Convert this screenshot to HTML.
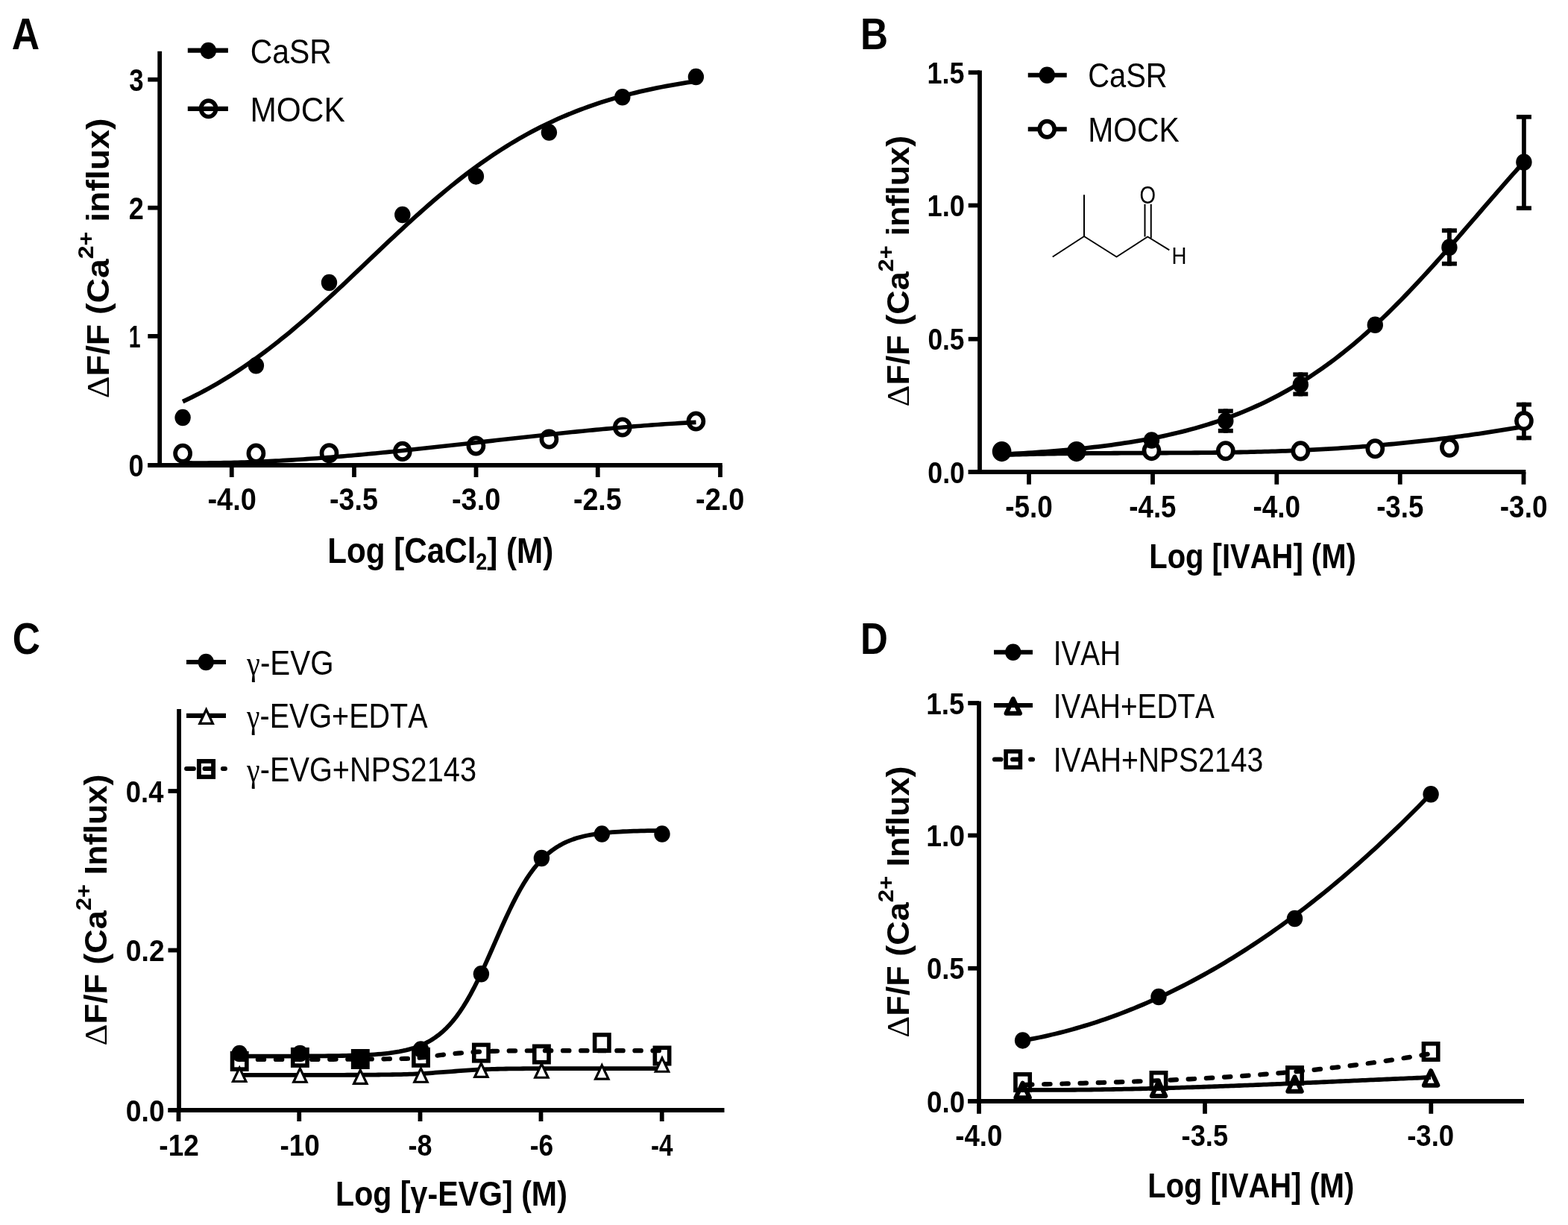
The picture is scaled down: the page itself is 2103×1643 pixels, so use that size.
<!DOCTYPE html>
<html><head><meta charset="utf-8"><title>Figure</title>
<style>
html,body{margin:0;padding:0;background:#fff;}
svg{display:block;}
text{font-kerning:none;fill:#000;white-space:pre;}
</style></head>
<body>
<svg width="2103" height="1643" viewBox="0 0 2103 1643">
<rect width="2103" height="1643" fill="#fff"/>
<g id="panelA">
<line x1="214.20" y1="68.80" x2="214.20" y2="626.90" stroke="#000" stroke-width="5.8" stroke-linecap="butt" />
<line x1="198.30" y1="624.00" x2="968.80" y2="624.00" stroke="#000" stroke-width="5.8" stroke-linecap="butt" />
<line x1="198.30" y1="106.70" x2="214.20" y2="106.70" stroke="#000" stroke-width="5.8" stroke-linecap="butt" />
<line x1="198.30" y1="278.70" x2="214.20" y2="278.70" stroke="#000" stroke-width="5.8" stroke-linecap="butt" />
<line x1="198.30" y1="450.90" x2="214.20" y2="450.90" stroke="#000" stroke-width="5.8" stroke-linecap="butt" />
<line x1="198.30" y1="624.00" x2="214.20" y2="624.00" stroke="#000" stroke-width="5.8" stroke-linecap="butt" />
<line x1="310.75" y1="624.00" x2="310.75" y2="640.00" stroke="#000" stroke-width="5.8" stroke-linecap="butt" />
<line x1="475.00" y1="624.00" x2="475.00" y2="640.00" stroke="#000" stroke-width="5.8" stroke-linecap="butt" />
<line x1="638.50" y1="624.00" x2="638.50" y2="640.00" stroke="#000" stroke-width="5.8" stroke-linecap="butt" />
<line x1="801.75" y1="624.00" x2="801.75" y2="640.00" stroke="#000" stroke-width="5.8" stroke-linecap="butt" />
<line x1="966.00" y1="624.00" x2="966.00" y2="640.00" stroke="#000" stroke-width="5.8" stroke-linecap="butt" />
<g transform="translate(15.81,65.90) scale(0.8823,1.0000)">
<text x="0.00" y="0.00" font-family='"Liberation Sans", sans-serif' font-weight="bold" font-size="58.70">A</text>
</g>
<g transform="translate(173.22,121.90) scale(0.8106,1.0000)">
<text x="0.00" y="0.00" font-family='"Liberation Sans", sans-serif' font-weight="bold" font-size="42.90">3</text>
</g>
<g transform="translate(172.74,293.90) scale(0.8401,1.0000)">
<text x="0.00" y="0.00" font-family='"Liberation Sans", sans-serif' font-weight="bold" font-size="42.90">2</text>
</g>
<g transform="translate(172.73,466.10) scale(0.6617,1.0000)">
<text x="0.00" y="0.00" font-family='"Liberation Sans", sans-serif' font-weight="bold" font-size="42.90">1</text>
</g>
<g transform="translate(172.54,639.20) scale(0.8490,1.0000)">
<text x="0.00" y="0.00" font-family='"Liberation Sans", sans-serif' font-weight="bold" font-size="42.90">0</text>
</g>
<g transform="translate(278.48,684.10) scale(0.8841,1.0000)">
<text x="0.00" y="0.00" font-family='"Liberation Sans", sans-serif' font-weight="bold" font-size="42.90">-4.0</text>
</g>
<g transform="translate(441.99,684.10) scale(0.8774,1.0000)">
<text x="0.00" y="0.00" font-family='"Liberation Sans", sans-serif' font-weight="bold" font-size="42.90">-3.5</text>
</g>
<g transform="translate(605.98,684.10) scale(0.8841,1.0000)">
<text x="0.00" y="0.00" font-family='"Liberation Sans", sans-serif' font-weight="bold" font-size="42.90">-3.0</text>
</g>
<g transform="translate(768.89,684.10) scale(0.8774,1.0000)">
<text x="0.00" y="0.00" font-family='"Liberation Sans", sans-serif' font-weight="bold" font-size="42.90">-2.5</text>
</g>
<g transform="translate(933.08,684.10) scale(0.8841,1.0000)">
<text x="0.00" y="0.00" font-family='"Liberation Sans", sans-serif' font-weight="bold" font-size="42.90">-2.0</text>
</g>
<g transform="translate(439.30,755.30) scale(0.8771,1.0000)">
<text x="0.00" y="0.00" font-family='"Liberation Sans", sans-serif' font-weight="bold" font-size="48.10">Log [CaCl</text>
<text x="226.91" y="8.66" font-family='"Liberation Sans", sans-serif' font-weight="bold" font-size="30.78">2</text>
<text x="244.00" y="0.00" font-family='"Liberation Sans", sans-serif' font-weight="bold" font-size="48.10">] (M)</text>
</g>
<g transform="translate(145.70,534.24) rotate(-90) scale(1.0953,1.0000)">
<text x="0.00" y="0.00" font-family='"Liberation Serif", serif' font-weight="normal" font-size="42.40">Δ</text>
<text x="27.24" y="0.00" font-family='"Liberation Sans", sans-serif' font-weight="bold" font-size="42.40">F/F (Ca</text>
<text x="170.77" y="-21.20" font-family='"Liberation Sans", sans-serif' font-weight="bold" font-size="29.26">2+</text>
<text x="215.88" y="0.00" font-family='"Liberation Sans", sans-serif' font-weight="bold" font-size="42.40">influx)</text>
</g>
<line x1="251.80" y1="67.70" x2="305.90" y2="67.70" stroke="#000" stroke-width="6.2" stroke-linecap="butt" />
<ellipse cx="279.40" cy="67.90" rx="10.7" ry="11.25" fill="#000"/>
<g transform="translate(335.76,84.80) scale(0.8882,1.0000)">
<text x="0.00" y="0.00" font-family='"Liberation Sans", sans-serif' font-weight="normal" font-size="46.00">CaSR</text>
</g>
<line x1="251.80" y1="145.80" x2="305.90" y2="145.80" stroke="#000" stroke-width="6.2" stroke-linecap="butt" />
<ellipse cx="279.60" cy="145.80" rx="10.0" ry="10.7" fill="none" stroke="#000" stroke-width="5.7"/>
<g transform="translate(335.50,163.00) scale(0.9219,1.0000)">
<text x="0.00" y="0.00" font-family='"Liberation Sans", sans-serif' font-weight="normal" font-size="46.00">MOCK</text>
</g>
<path d="M245.10,538.62 L250.88,535.89 L256.67,533.08 L262.45,530.19 L268.24,527.21 L274.02,524.15 L279.80,521.00 L285.59,517.77 L291.37,514.45 L297.16,511.04 L302.94,507.54 L308.72,503.95 L314.51,500.28 L320.29,496.51 L326.08,492.66 L331.86,488.72 L337.64,484.69 L343.43,480.57 L349.21,476.37 L355.00,472.08 L360.78,467.71 L366.56,463.25 L372.35,458.72 L378.13,454.10 L383.92,449.41 L389.70,444.65 L395.48,439.81 L401.27,434.90 L407.05,429.93 L412.84,424.90 L418.62,419.80 L424.41,414.65 L430.19,409.44 L435.97,404.19 L441.76,398.89 L447.54,393.55 L453.33,388.17 L459.11,382.76 L464.89,377.32 L470.68,371.86 L476.46,366.39 L482.25,360.89 L488.03,355.39 L493.81,349.89 L499.60,344.38 L505.38,338.88 L511.17,333.40 L516.95,327.92 L522.73,322.47 L528.52,317.04 L534.30,311.64 L540.09,306.28 L545.87,300.95 L551.65,295.66 L557.44,290.42 L563.22,285.24 L569.01,280.10 L574.79,275.02 L580.57,270.01 L586.36,265.06 L592.14,260.17 L597.93,255.36 L603.71,250.62 L609.49,245.95 L615.28,241.36 L621.06,236.85 L626.85,232.43 L632.63,228.08 L638.41,223.82 L644.20,219.65 L649.98,215.56 L655.77,211.56 L661.55,207.65 L667.33,203.82 L673.12,200.09 L678.90,196.44 L684.69,192.88 L690.47,189.41 L696.25,186.03 L702.04,182.74 L707.82,179.53 L713.61,176.41 L719.39,173.38 L725.17,170.43 L730.96,167.57 L736.74,164.78 L742.53,162.08 L748.31,159.46 L754.09,156.92 L759.88,154.46 L765.66,152.07 L771.45,149.76 L777.23,147.51 L783.02,145.35 L788.80,143.25 L794.58,141.22 L800.37,139.25 L806.15,137.36 L811.94,135.52 L817.72,133.75 L823.50,132.04 L829.29,130.38 L835.07,128.79 L840.86,127.25 L846.64,125.76 L852.42,124.33 L858.21,122.94 L863.99,121.61 L869.78,120.32 L875.56,119.09 L881.34,117.89 L887.13,116.74 L892.91,115.63 L898.70,114.57 L904.48,113.54 L910.26,112.55 L916.05,111.60 L921.83,110.68 L927.62,109.80 L933.40,108.95" fill="none" stroke="#000" stroke-width="5.8" stroke-linejoin="round" stroke-linecap="butt"/>
<path d="M245.00,620.80 L249.62,620.85 L254.24,620.90 L258.86,620.93 L263.48,620.95 L268.10,620.95 L272.72,620.95 L277.35,620.93 L281.97,620.90 L286.59,620.85 L291.21,620.80 L295.83,620.73 L300.45,620.65 L305.07,620.56 L309.69,620.46 L314.31,620.35 L318.93,620.22 L323.55,620.09 L328.17,619.94 L332.80,619.78 L337.42,619.62 L342.04,619.44 L346.66,619.25 L351.28,619.06 L355.90,618.85 L360.52,618.63 L365.14,618.41 L369.76,618.17 L374.38,617.93 L379.00,617.67 L383.62,617.41 L388.24,617.14 L392.87,616.86 L397.49,616.57 L402.11,616.27 L406.73,615.97 L411.35,615.65 L415.97,615.33 L420.59,615.00 L425.21,614.67 L429.83,614.32 L434.45,613.97 L439.07,613.62 L443.69,613.25 L448.32,612.88 L452.94,612.50 L457.56,612.12 L462.18,611.73 L466.80,611.33 L471.42,610.93 L476.04,610.52 L480.66,610.10 L485.28,609.68 L489.90,609.26 L494.52,608.83 L499.14,608.39 L503.77,607.95 L508.39,607.50 L513.01,607.05 L517.63,606.60 L522.25,606.14 L526.87,605.67 L531.49,605.21 L536.11,604.74 L540.73,604.26 L545.35,603.78 L549.97,603.30 L554.59,602.81 L559.21,602.33 L563.84,601.83 L568.46,601.34 L573.08,600.84 L577.70,600.34 L582.32,599.84 L586.94,599.34 L591.56,598.83 L596.18,598.32 L600.80,597.81 L605.42,597.30 L610.04,596.79 L614.66,596.27 L619.29,595.76 L623.91,595.24 L628.53,594.73 L633.15,594.21 L637.77,593.69 L642.39,593.17 L647.01,592.65 L651.63,592.13 L656.25,591.61 L660.87,591.10 L665.49,590.58 L670.11,590.06 L674.73,589.54 L679.36,589.03 L683.98,588.51 L688.60,588.00 L693.22,587.48 L697.84,586.97 L702.46,586.46 L707.08,585.95 L711.70,585.45 L716.32,584.94 L720.94,584.44 L725.56,583.94 L730.18,583.45 L734.81,582.95 L739.43,582.46 L744.05,581.97 L748.67,581.49 L753.29,581.00 L757.91,580.53 L762.53,580.05 L767.15,579.58 L771.77,579.11 L776.39,578.65 L781.01,578.19 L785.63,577.73 L790.26,577.28 L794.88,576.84 L799.50,576.40 L804.12,575.96 L808.74,575.53 L813.36,575.10 L817.98,574.68 L822.60,574.27 L827.22,573.86 L831.84,573.46 L836.46,573.06 L841.08,572.67 L845.70,572.28 L850.33,571.91 L854.95,571.53 L859.57,571.17 L864.19,570.81 L868.81,570.46 L873.43,570.12 L878.05,569.78 L882.67,569.45 L887.29,569.13 L891.91,568.82 L896.53,568.51 L901.15,568.22 L905.78,567.93 L910.40,567.65 L915.02,567.38 L919.64,567.11 L924.26,566.86 L928.88,566.61 L933.50,566.38" fill="none" stroke="#000" stroke-width="5.6" stroke-linejoin="round" stroke-linecap="butt"/>
<ellipse cx="245.10" cy="608.20" rx="10.0" ry="10.7" fill="none" stroke="#000" stroke-width="5.7"/>
<ellipse cx="343.40" cy="608.10" rx="10.0" ry="10.7" fill="none" stroke="#000" stroke-width="5.7"/>
<ellipse cx="441.50" cy="607.80" rx="10.0" ry="10.7" fill="none" stroke="#000" stroke-width="5.7"/>
<ellipse cx="539.80" cy="605.40" rx="10.0" ry="10.7" fill="none" stroke="#000" stroke-width="5.7"/>
<ellipse cx="638.40" cy="598.00" rx="10.0" ry="10.7" fill="none" stroke="#000" stroke-width="5.7"/>
<ellipse cx="736.40" cy="589.00" rx="10.0" ry="10.7" fill="none" stroke="#000" stroke-width="5.7"/>
<ellipse cx="834.80" cy="573.00" rx="10.0" ry="10.7" fill="none" stroke="#000" stroke-width="5.7"/>
<ellipse cx="933.40" cy="565.00" rx="10.0" ry="10.7" fill="none" stroke="#000" stroke-width="5.7"/>
<ellipse cx="245.10" cy="560.10" rx="10.7" ry="11.25" fill="#000"/>
<ellipse cx="343.40" cy="490.20" rx="10.7" ry="11.25" fill="#000"/>
<ellipse cx="441.50" cy="379.00" rx="10.7" ry="11.25" fill="#000"/>
<ellipse cx="539.80" cy="288.00" rx="10.7" ry="11.25" fill="#000"/>
<ellipse cx="638.40" cy="236.40" rx="10.7" ry="11.25" fill="#000"/>
<ellipse cx="736.40" cy="177.60" rx="10.7" ry="11.25" fill="#000"/>
<ellipse cx="834.80" cy="130.20" rx="10.7" ry="11.25" fill="#000"/>
<ellipse cx="933.40" cy="103.10" rx="10.7" ry="11.25" fill="#000"/>
</g>
<g id="panelB">
<line x1="1314.00" y1="94.50" x2="1314.00" y2="635.90" stroke="#000" stroke-width="5.8" stroke-linecap="butt" />
<line x1="1298.75" y1="633.00" x2="2046.30" y2="633.00" stroke="#000" stroke-width="5.8" stroke-linecap="butt" />
<line x1="1298.75" y1="97.25" x2="1314.00" y2="97.25" stroke="#000" stroke-width="5.8" stroke-linecap="butt" />
<line x1="1298.75" y1="275.50" x2="1314.00" y2="275.50" stroke="#000" stroke-width="5.8" stroke-linecap="butt" />
<line x1="1298.75" y1="454.75" x2="1314.00" y2="454.75" stroke="#000" stroke-width="5.8" stroke-linecap="butt" />
<line x1="1298.75" y1="633.00" x2="1314.00" y2="633.00" stroke="#000" stroke-width="5.8" stroke-linecap="butt" />
<line x1="1380.00" y1="633.00" x2="1380.00" y2="649.75" stroke="#000" stroke-width="5.8" stroke-linecap="butt" />
<line x1="1546.00" y1="633.00" x2="1546.00" y2="649.75" stroke="#000" stroke-width="5.8" stroke-linecap="butt" />
<line x1="1712.30" y1="633.00" x2="1712.30" y2="649.75" stroke="#000" stroke-width="5.8" stroke-linecap="butt" />
<line x1="1877.75" y1="633.00" x2="1877.75" y2="649.75" stroke="#000" stroke-width="5.8" stroke-linecap="butt" />
<line x1="2043.50" y1="633.00" x2="2043.50" y2="649.75" stroke="#000" stroke-width="5.8" stroke-linecap="butt" />
<g transform="translate(1154.04,65.50) scale(0.8727,1.0000)">
<text x="0.00" y="0.00" font-family='"Liberation Sans", sans-serif' font-weight="bold" font-size="58.70">B</text>
</g>
<g transform="translate(1243.56,111.85) scale(0.8717,1.0000)">
<text x="0.00" y="0.00" font-family='"Liberation Sans", sans-serif' font-weight="bold" font-size="41.20">1.5</text>
</g>
<g transform="translate(1243.53,290.10) scale(0.8802,1.0000)">
<text x="0.00" y="0.00" font-family='"Liberation Sans", sans-serif' font-weight="bold" font-size="41.20">1.0</text>
</g>
<g transform="translate(1244.39,469.35) scale(0.8569,1.0000)">
<text x="0.00" y="0.00" font-family='"Liberation Sans", sans-serif' font-weight="bold" font-size="41.20">0.5</text>
</g>
<g transform="translate(1244.37,647.60) scale(0.8651,1.0000)">
<text x="0.00" y="0.00" font-family='"Liberation Sans", sans-serif' font-weight="bold" font-size="41.20">0.0</text>
</g>
<g transform="translate(1348.22,694.30) scale(0.8861,1.0000)">
<text x="0.00" y="0.00" font-family='"Liberation Sans", sans-serif' font-weight="bold" font-size="41.70">-5.0</text>
</g>
<g transform="translate(1514.33,694.30) scale(0.8794,1.0000)">
<text x="0.00" y="0.00" font-family='"Liberation Sans", sans-serif' font-weight="bold" font-size="41.70">-4.5</text>
</g>
<g transform="translate(1680.42,694.30) scale(0.8861,1.0000)">
<text x="0.00" y="0.00" font-family='"Liberation Sans", sans-serif' font-weight="bold" font-size="41.70">-4.0</text>
</g>
<g transform="translate(1846.13,694.30) scale(0.8794,1.0000)">
<text x="0.00" y="0.00" font-family='"Liberation Sans", sans-serif' font-weight="bold" font-size="41.70">-3.5</text>
</g>
<g transform="translate(2011.82,694.30) scale(0.8861,1.0000)">
<text x="0.00" y="0.00" font-family='"Liberation Sans", sans-serif' font-weight="bold" font-size="41.70">-3.0</text>
</g>
<g transform="translate(1541.20,761.70) scale(0.8734,1.0000)">
<text x="0.00" y="0.00" font-family='"Liberation Sans", sans-serif' font-weight="bold" font-size="45.80">Log [IVAH] (M)</text>
</g>
<g transform="translate(1219.10,545.49) rotate(-90) scale(1.0653,1.0000)">
<text x="0.00" y="0.00" font-family='"Liberation Serif", serif' font-weight="normal" font-size="42.20">Δ</text>
<text x="27.11" y="0.00" font-family='"Liberation Sans", sans-serif' font-weight="bold" font-size="42.20">F/F (Ca</text>
<text x="169.96" y="-21.10" font-family='"Liberation Sans", sans-serif' font-weight="bold" font-size="29.12">2+</text>
<text x="214.87" y="0.00" font-family='"Liberation Sans", sans-serif' font-weight="bold" font-size="42.20">influx)</text>
</g>
<line x1="1378.75" y1="100.75" x2="1430.75" y2="100.75" stroke="#000" stroke-width="6.2" stroke-linecap="butt" />
<ellipse cx="1404.25" cy="100.75" rx="10.7" ry="11.25" fill="#000"/>
<g transform="translate(1459.26,117.00) scale(0.8670,1.0000)">
<text x="0.00" y="0.00" font-family='"Liberation Sans", sans-serif' font-weight="normal" font-size="46.00">CaSR</text>
</g>
<line x1="1378.75" y1="173.25" x2="1430.75" y2="173.25" stroke="#000" stroke-width="6.2" stroke-linecap="butt" />
<ellipse cx="1404.25" cy="173.25" rx="10.0" ry="10.7" fill="#fff" stroke="#000" stroke-width="5.7"/>
<g transform="translate(1459.13,190.00) scale(0.8886,1.0000)">
<text x="0.00" y="0.00" font-family='"Liberation Sans", sans-serif' font-weight="normal" font-size="46.00">MOCK</text>
</g>
<path d="M1411.75,344.50 L1454.00,317.00 L1497.50,344.50 L1539.25,317.50 L1568.30,335.30" fill="none" stroke="#000" stroke-width="2.0" stroke-linejoin="round" stroke-linecap="butt"/>
<line x1="1454.00" y1="317.00" x2="1454.00" y2="261.25" stroke="#000" stroke-width="2.0" stroke-linecap="butt" />
<line x1="1535.50" y1="317.50" x2="1535.50" y2="273.75" stroke="#000" stroke-width="2.0" stroke-linecap="butt" />
<line x1="1543.75" y1="319.50" x2="1543.75" y2="273.75" stroke="#000" stroke-width="2.0" stroke-linecap="butt" />
<g transform="translate(1528.48,272.50) scale(0.8495,1.0000)">
<text x="0.00" y="0.00" font-family='"Liberation Sans", sans-serif' font-weight="normal" font-size="32.60">O</text>
</g>
<g transform="translate(1571.52,354.30) scale(0.8769,1.0000)">
<text x="0.00" y="0.00" font-family='"Liberation Sans", sans-serif' font-weight="normal" font-size="31.50">H</text>
</g>
<path d="M1343.60,610.24 L1348.30,610.08 L1353.00,609.92 L1357.70,609.78 L1362.40,609.64 L1367.10,609.51 L1371.80,609.38 L1376.50,609.26 L1381.21,609.15 L1385.91,609.04 L1390.61,608.94 L1395.31,608.84 L1400.01,608.75 L1404.71,608.66 L1409.41,608.58 L1414.11,608.50 L1418.81,608.43 L1423.51,608.37 L1428.21,608.30 L1432.91,608.24 L1437.61,608.19 L1442.31,608.14 L1447.01,608.09 L1451.72,608.05 L1456.42,608.00 L1461.12,607.97 L1465.82,607.93 L1470.52,607.90 L1475.22,607.87 L1479.92,607.84 L1484.62,607.81 L1489.32,607.79 L1494.02,607.76 L1498.72,607.74 L1503.42,607.72 L1508.12,607.70 L1512.82,607.69 L1517.52,607.67 L1522.23,607.65 L1526.93,607.64 L1531.63,607.62 L1536.33,607.60 L1541.03,607.59 L1545.73,607.57 L1550.43,607.55 L1555.13,607.53 L1559.83,607.52 L1564.53,607.49 L1569.23,607.47 L1573.93,607.45 L1578.63,607.43 L1583.33,607.40 L1588.03,607.37 L1592.74,607.34 L1597.44,607.31 L1602.14,607.27 L1606.84,607.23 L1611.54,607.19 L1616.24,607.14 L1620.94,607.10 L1625.64,607.04 L1630.34,606.99 L1635.04,606.93 L1639.74,606.86 L1644.44,606.80 L1649.14,606.72 L1653.84,606.65 L1658.54,606.56 L1663.25,606.48 L1667.95,606.39 L1672.65,606.29 L1677.35,606.18 L1682.05,606.08 L1686.75,605.96 L1691.45,605.84 L1696.15,605.71 L1700.85,605.58 L1705.55,605.44 L1710.25,605.29 L1714.95,605.13 L1719.65,604.97 L1724.35,604.80 L1729.06,604.63 L1733.76,604.44 L1738.46,604.25 L1743.16,604.05 L1747.86,603.84 L1752.56,603.62 L1757.26,603.39 L1761.96,603.16 L1766.66,602.91 L1771.36,602.66 L1776.06,602.40 L1780.76,602.13 L1785.46,601.85 L1790.16,601.57 L1794.86,601.27 L1799.57,600.97 L1804.27,600.65 L1808.97,600.33 L1813.67,600.00 L1818.37,599.66 L1823.07,599.31 L1827.77,598.95 L1832.47,598.58 L1837.17,598.21 L1841.87,597.82 L1846.57,597.42 L1851.27,597.02 L1855.97,596.61 L1860.67,596.18 L1865.37,595.75 L1870.08,595.31 L1874.78,594.86 L1879.48,594.40 L1884.18,593.93 L1888.88,593.45 L1893.58,592.96 L1898.28,592.46 L1902.98,591.95 L1907.68,591.43 L1912.38,590.90 L1917.08,590.36 L1921.78,589.81 L1926.48,589.26 L1931.18,588.69 L1935.88,588.11 L1940.59,587.52 L1945.29,586.92 L1949.99,586.32 L1954.69,585.70 L1959.39,585.07 L1964.09,584.43 L1968.79,583.78 L1973.49,583.12 L1978.19,582.45 L1982.89,581.77 L1987.59,581.08 L1992.29,580.38 L1996.99,579.67 L2001.69,578.95 L2006.39,578.22 L2011.10,577.48 L2015.80,576.72 L2020.50,575.96 L2025.20,575.18 L2029.90,574.40 L2034.60,573.60 L2039.30,572.79 L2044.00,571.98" fill="none" stroke="#000" stroke-width="5.8" stroke-linejoin="round" stroke-linecap="butt"/>
<line x1="2043.90" y1="539.70" x2="2043.90" y2="590.30" stroke="#000" stroke-width="5.8" stroke-linecap="butt" />
<line x1="2033.90" y1="542.60" x2="2053.90" y2="542.60" stroke="#000" stroke-width="5.8" stroke-linecap="butt" />
<line x1="2033.90" y1="587.40" x2="2053.90" y2="587.40" stroke="#000" stroke-width="5.8" stroke-linecap="butt" />
<ellipse cx="1343.60" cy="605.60" rx="10.0" ry="10.7" fill="#fff" stroke="#000" stroke-width="5.7"/>
<ellipse cx="1443.80" cy="605.60" rx="10.0" ry="10.7" fill="#fff" stroke="#000" stroke-width="5.7"/>
<ellipse cx="1544.50" cy="604.60" rx="10.0" ry="10.7" fill="#fff" stroke="#000" stroke-width="5.7"/>
<ellipse cx="1643.80" cy="604.70" rx="10.0" ry="10.7" fill="#fff" stroke="#000" stroke-width="5.7"/>
<ellipse cx="1744.30" cy="604.90" rx="10.0" ry="10.7" fill="#fff" stroke="#000" stroke-width="5.7"/>
<ellipse cx="1844.30" cy="601.80" rx="10.0" ry="10.7" fill="#fff" stroke="#000" stroke-width="5.7"/>
<ellipse cx="1943.90" cy="600.30" rx="10.0" ry="10.7" fill="#fff" stroke="#000" stroke-width="5.7"/>
<ellipse cx="2043.90" cy="564.60" rx="10.0" ry="10.7" fill="#fff" stroke="#000" stroke-width="5.7"/>
<path d="M1343.60,609.43 L1349.48,609.13 L1355.37,608.82 L1361.25,608.49 L1367.14,608.16 L1373.02,607.80 L1378.91,607.44 L1384.79,607.05 L1390.68,606.66 L1396.56,606.24 L1402.45,605.81 L1408.33,605.36 L1414.22,604.89 L1420.10,604.41 L1425.99,603.90 L1431.87,603.37 L1437.76,602.82 L1443.64,602.25 L1449.53,601.66 L1455.41,601.04 L1461.30,600.40 L1467.18,599.73 L1473.07,599.03 L1478.95,598.31 L1484.84,597.55 L1490.72,596.77 L1496.61,595.95 L1502.49,595.11 L1508.38,594.23 L1514.26,593.31 L1520.15,592.36 L1526.03,591.37 L1531.92,590.34 L1537.80,589.27 L1543.69,588.16 L1549.57,587.01 L1555.46,585.81 L1561.34,584.57 L1567.23,583.28 L1573.11,581.94 L1578.99,580.55 L1584.88,579.10 L1590.76,577.61 L1596.65,576.05 L1602.53,574.44 L1608.42,572.77 L1614.30,571.04 L1620.19,569.24 L1626.07,567.38 L1631.96,565.45 L1637.84,563.46 L1643.73,561.39 L1649.61,559.25 L1655.50,557.03 L1661.38,554.74 L1667.27,552.37 L1673.15,549.92 L1679.04,547.38 L1684.92,544.76 L1690.81,542.06 L1696.69,539.27 L1702.58,536.38 L1708.46,533.41 L1714.35,530.33 L1720.23,527.17 L1726.12,523.91 L1732.00,520.54 L1737.89,517.08 L1743.77,513.52 L1749.66,509.85 L1755.54,506.08 L1761.43,502.20 L1767.31,498.22 L1773.20,494.12 L1779.08,489.92 L1784.97,485.62 L1790.85,481.20 L1796.74,476.67 L1802.62,472.04 L1808.51,467.29 L1814.39,462.44 L1820.27,457.48 L1826.16,452.41 L1832.04,447.23 L1837.93,441.95 L1843.81,436.56 L1849.70,431.08 L1855.58,425.49 L1861.47,419.81 L1867.35,414.03 L1873.24,408.15 L1879.12,402.19 L1885.01,396.14 L1890.89,390.01 L1896.78,383.80 L1902.66,377.51 L1908.55,371.15 L1914.43,364.73 L1920.32,358.24 L1926.20,351.70 L1932.09,345.10 L1937.97,338.46 L1943.86,331.77 L1949.74,325.05 L1955.63,318.29 L1961.51,311.51 L1967.40,304.71 L1973.28,297.90 L1979.17,291.08 L1985.05,284.26 L1990.94,277.44 L1996.82,270.63 L2002.71,263.84 L2008.59,257.07 L2014.48,250.32 L2020.36,243.61 L2026.25,236.94 L2032.13,230.31 L2038.02,223.73 L2043.90,217.20" fill="none" stroke="#000" stroke-width="5.8" stroke-linejoin="round" stroke-linecap="butt"/>
<line x1="1643.80" y1="548.40" x2="1643.80" y2="580.70" stroke="#000" stroke-width="5.8" stroke-linecap="butt" />
<line x1="1633.80" y1="551.30" x2="1653.80" y2="551.30" stroke="#000" stroke-width="5.8" stroke-linecap="butt" />
<line x1="1633.80" y1="577.80" x2="1653.80" y2="577.80" stroke="#000" stroke-width="5.8" stroke-linecap="butt" />
<line x1="1744.30" y1="499.40" x2="1744.30" y2="531.40" stroke="#000" stroke-width="5.8" stroke-linecap="butt" />
<line x1="1734.30" y1="502.30" x2="1754.30" y2="502.30" stroke="#000" stroke-width="5.8" stroke-linecap="butt" />
<line x1="1734.30" y1="528.50" x2="1754.30" y2="528.50" stroke="#000" stroke-width="5.8" stroke-linecap="butt" />
<line x1="1943.90" y1="306.30" x2="1943.90" y2="356.60" stroke="#000" stroke-width="5.8" stroke-linecap="butt" />
<line x1="1933.90" y1="309.20" x2="1953.90" y2="309.20" stroke="#000" stroke-width="5.8" stroke-linecap="butt" />
<line x1="1933.90" y1="353.70" x2="1953.90" y2="353.70" stroke="#000" stroke-width="5.8" stroke-linecap="butt" />
<line x1="2043.90" y1="153.90" x2="2043.90" y2="282.10" stroke="#000" stroke-width="5.8" stroke-linecap="butt" />
<line x1="2033.90" y1="156.80" x2="2053.90" y2="156.80" stroke="#000" stroke-width="5.8" stroke-linecap="butt" />
<line x1="2033.90" y1="279.20" x2="2053.90" y2="279.20" stroke="#000" stroke-width="5.8" stroke-linecap="butt" />
<ellipse cx="1343.60" cy="605.60" rx="10.7" ry="11.25" fill="#000"/>
<ellipse cx="1443.80" cy="605.60" rx="10.7" ry="11.25" fill="#000"/>
<ellipse cx="1544.50" cy="590.50" rx="10.7" ry="11.25" fill="#000"/>
<ellipse cx="1643.80" cy="564.50" rx="10.7" ry="11.25" fill="#000"/>
<ellipse cx="1744.30" cy="515.80" rx="10.7" ry="11.25" fill="#000"/>
<ellipse cx="1844.30" cy="435.70" rx="10.7" ry="11.25" fill="#000"/>
<ellipse cx="1943.90" cy="331.80" rx="10.7" ry="11.25" fill="#000"/>
<ellipse cx="2043.90" cy="217.50" rx="10.7" ry="11.25" fill="#000"/>
</g>
<g id="panelC">
<line x1="240.10" y1="951.00" x2="240.10" y2="1491.90" stroke="#000" stroke-width="5.8" stroke-linecap="butt" />
<line x1="225.50" y1="1489.00" x2="971.50" y2="1489.00" stroke="#000" stroke-width="5.8" stroke-linecap="butt" />
<line x1="225.50" y1="1061.00" x2="240.10" y2="1061.00" stroke="#000" stroke-width="5.8" stroke-linecap="butt" />
<line x1="225.50" y1="1274.50" x2="240.10" y2="1274.50" stroke="#000" stroke-width="5.8" stroke-linecap="butt" />
<line x1="225.50" y1="1489.00" x2="240.10" y2="1489.00" stroke="#000" stroke-width="5.8" stroke-linecap="butt" />
<line x1="239.50" y1="1489.00" x2="239.50" y2="1504.00" stroke="#000" stroke-width="5.8" stroke-linecap="butt" />
<line x1="401.25" y1="1489.00" x2="401.25" y2="1504.00" stroke="#000" stroke-width="5.8" stroke-linecap="butt" />
<line x1="563.50" y1="1489.00" x2="563.50" y2="1504.00" stroke="#000" stroke-width="5.8" stroke-linecap="butt" />
<line x1="725.50" y1="1489.00" x2="725.50" y2="1504.00" stroke="#000" stroke-width="5.8" stroke-linecap="butt" />
<line x1="887.75" y1="1489.00" x2="887.75" y2="1504.00" stroke="#000" stroke-width="5.8" stroke-linecap="butt" />
<g transform="translate(16.69,876.50) scale(0.8778,1.0000)">
<text x="0.00" y="0.00" font-family='"Liberation Sans", sans-serif' font-weight="bold" font-size="58.70">C</text>
</g>
<g transform="translate(168.85,1075.70) scale(0.8759,1.0000)">
<text x="0.00" y="0.00" font-family='"Liberation Sans", sans-serif' font-weight="bold" font-size="41.50">0.4</text>
</g>
<g transform="translate(168.81,1289.20) scale(0.8994,1.0000)">
<text x="0.00" y="0.00" font-family='"Liberation Sans", sans-serif' font-weight="bold" font-size="41.50">0.2</text>
</g>
<g transform="translate(168.81,1503.70) scale(0.8994,1.0000)">
<text x="0.00" y="0.00" font-family='"Liberation Sans", sans-serif' font-weight="bold" font-size="41.50">0.0</text>
</g>
<g transform="translate(213.32,1549.90) scale(0.9000,1.0000)">
<text x="0.00" y="0.00" font-family='"Liberation Sans", sans-serif' font-weight="bold" font-size="41.10">-12</text>
</g>
<g transform="translate(375.42,1549.90) scale(0.9000,1.0000)">
<text x="0.00" y="0.00" font-family='"Liberation Sans", sans-serif' font-weight="bold" font-size="41.10">-10</text>
</g>
<g transform="translate(547.56,1549.90) scale(0.8780,1.0000)">
<text x="0.00" y="0.00" font-family='"Liberation Sans", sans-serif' font-weight="bold" font-size="41.10">-8</text>
</g>
<g transform="translate(710.81,1549.90) scale(0.8609,1.0000)">
<text x="0.00" y="0.00" font-family='"Liberation Sans", sans-serif' font-weight="bold" font-size="41.10">-6</text>
</g>
<g transform="translate(872.92,1549.90) scale(0.8086,1.0000)">
<text x="0.00" y="0.00" font-family='"Liberation Sans", sans-serif' font-weight="bold" font-size="41.10">-4</text>
</g>
<g transform="translate(450.02,1616.80) scale(0.9026,1.0000)">
<text x="0.00" y="0.00" font-family='"Liberation Sans", sans-serif' font-weight="bold" font-size="45.60">Log [γ-EVG] (M)</text>
</g>
<g transform="translate(143.20,1402.44) rotate(-90) scale(1.0607,1.0000)">
<text x="0.00" y="0.00" font-family='"Liberation Serif", serif' font-weight="normal" font-size="42.40">Δ</text>
<text x="27.24" y="0.00" font-family='"Liberation Sans", sans-serif' font-weight="bold" font-size="42.40">F/F (Ca</text>
<text x="170.77" y="-21.20" font-family='"Liberation Sans", sans-serif' font-weight="bold" font-size="29.26">2+</text>
<text x="215.88" y="0.00" font-family='"Liberation Sans", sans-serif' font-weight="bold" font-size="42.40">Influx)</text>
</g>
<line x1="250.00" y1="888.00" x2="303.00" y2="888.00" stroke="#000" stroke-width="6.2" stroke-linecap="butt" />
<ellipse cx="276.25" cy="888.00" rx="10.7" ry="11.25" fill="#000"/>
<g transform="translate(331.10,904.75) scale(0.8765,1.0000)">
<text x="0.00" y="0.00" font-family='"Liberation Serif", serif' font-weight="normal" font-size="46.00">γ</text>
<text x="20.36" y="0.00" font-family='"Liberation Sans", sans-serif' font-weight="normal" font-size="46.00">-EVG</text>
</g>
<line x1="250.00" y1="959.90" x2="303.00" y2="959.90" stroke="#000" stroke-width="6.2" stroke-linecap="butt" />
<path d="M276.60,951.74 L285.37,970.30 L267.83,970.30 Z" fill="#fff" stroke="#000" stroke-width="3.2" stroke-linejoin="miter" stroke-miterlimit="10"/>
<g transform="translate(331.10,976.00) scale(0.8586,1.0000)">
<text x="0.00" y="0.00" font-family='"Liberation Serif", serif' font-weight="normal" font-size="46.00">γ</text>
<text x="20.36" y="0.00" font-family='"Liberation Sans", sans-serif' font-weight="normal" font-size="46.00">-EVG+EDTA</text>
</g>
<path d="M250.10,1031.10 L301.90,1031.10" fill="none" stroke="#000" stroke-width="6.0" stroke-linejoin="round" stroke-linecap="round" stroke-dasharray="9.8 14.6" stroke-dashoffset="0"/>
<rect x="266.90" y="1020.95" width="19.20" height="21.00" fill="none" stroke="#000" stroke-width="5.9"/>
<g transform="translate(331.10,1048.00) scale(0.8635,1.0000)">
<text x="0.00" y="0.00" font-family='"Liberation Serif", serif' font-weight="normal" font-size="46.00">γ</text>
<text x="20.36" y="0.00" font-family='"Liberation Sans", sans-serif' font-weight="normal" font-size="46.00">-EVG+NPS2143</text>
</g>
<rect x="311.55" y="1412.70" width="19.30" height="21.40" fill="none" stroke="#000" stroke-width="5.6"/>
<rect x="392.75" y="1407.70" width="19.30" height="21.40" fill="none" stroke="#000" stroke-width="5.6"/>
<rect x="473.65" y="1409.80" width="19.30" height="21.40" fill="none" stroke="#000" stroke-width="5.6"/>
<rect x="554.85" y="1407.60" width="19.30" height="21.40" fill="none" stroke="#000" stroke-width="5.6"/>
<rect x="635.75" y="1401.40" width="19.30" height="21.40" fill="none" stroke="#000" stroke-width="5.6"/>
<rect x="716.75" y="1403.30" width="19.30" height="21.40" fill="none" stroke="#000" stroke-width="5.6"/>
<rect x="797.65" y="1387.90" width="19.30" height="21.40" fill="none" stroke="#000" stroke-width="5.6"/>
<rect x="878.35" y="1405.30" width="19.30" height="21.40" fill="none" stroke="#000" stroke-width="5.6"/>
<path d="M321.70,1421.00 L325.50,1421.00 L329.30,1421.00 L333.10,1421.00 L336.90,1421.00 L340.70,1421.00 L344.50,1421.00 L348.30,1421.00 L352.11,1421.00 L355.91,1421.00 L359.71,1421.00 L363.51,1421.00 L367.31,1421.00 L371.11,1421.00 L374.91,1421.00 L378.71,1421.00 L382.51,1421.00 L386.31,1421.00 L390.11,1421.00 L393.91,1421.00 L397.71,1421.00 L401.51,1421.00 L405.31,1421.00 L409.12,1420.99 L412.92,1420.98 L416.72,1420.97 L420.52,1420.96 L424.32,1420.94 L428.12,1420.92 L431.92,1420.90 L435.72,1420.87 L439.52,1420.85 L443.32,1420.82 L447.12,1420.79 L450.92,1420.76 L454.72,1420.73 L458.52,1420.70 L462.32,1420.67 L466.13,1420.63 L469.93,1420.60 L473.73,1420.57 L477.53,1420.54 L481.33,1420.51 L485.13,1420.48 L488.93,1420.46 L492.73,1420.44 L496.53,1420.41 L500.33,1420.39 L504.13,1420.37 L507.93,1420.34 L511.73,1420.32 L515.53,1420.29 L519.33,1420.26 L523.14,1420.22 L526.94,1420.18 L530.74,1420.14 L534.54,1420.09 L538.34,1420.03 L542.14,1419.95 L545.94,1419.81 L549.74,1419.61 L553.54,1419.36 L557.34,1419.07 L561.14,1418.77 L564.94,1418.46 L568.74,1418.10 L572.54,1417.66 L576.34,1417.16 L580.15,1416.63 L583.95,1416.08 L587.75,1415.53 L591.55,1415.00 L595.35,1414.51 L599.15,1414.08 L602.95,1413.71 L606.75,1413.35 L610.55,1412.99 L614.35,1412.64 L618.15,1412.30 L621.95,1411.98 L625.75,1411.67 L629.55,1411.39 L633.36,1411.13 L637.16,1410.89 L640.96,1410.68 L644.76,1410.51 L648.56,1410.36 L652.36,1410.21 L656.16,1410.07 L659.96,1409.95 L663.76,1409.83 L667.56,1409.73 L671.36,1409.64 L675.16,1409.57 L678.96,1409.51 L682.76,1409.47 L686.56,1409.43 L690.37,1409.39 L694.17,1409.36 L697.97,1409.33 L701.77,1409.30 L705.57,1409.27 L709.37,1409.25 L713.17,1409.23 L716.97,1409.21 L720.77,1409.20 L724.57,1409.20 L728.37,1409.20 L732.17,1409.20 L735.97,1409.20 L739.77,1409.20 L743.57,1409.20 L747.38,1409.20 L751.18,1409.20 L754.98,1409.20 L758.78,1409.20 L762.58,1409.20 L766.38,1409.20 L770.18,1409.20 L773.98,1409.20 L777.78,1409.20 L781.58,1409.20 L785.38,1409.20 L789.18,1409.20 L792.98,1409.20 L796.78,1409.20 L800.58,1409.20 L804.39,1409.20 L808.19,1409.20 L811.99,1409.20 L815.79,1409.20 L819.59,1409.20 L823.39,1409.20 L827.19,1409.20 L830.99,1409.20 L834.79,1409.20 L838.59,1409.20 L842.39,1409.20 L846.19,1409.20 L849.99,1409.20 L853.79,1409.20 L857.59,1409.20 L861.40,1409.20 L865.20,1409.20 L869.00,1409.20 L872.80,1409.20 L876.60,1409.20 L880.40,1409.20 L884.20,1409.20 L888.00,1409.20" fill="none" stroke="#000" stroke-width="6.2" stroke-linejoin="round" stroke-linecap="round" stroke-dasharray="8.4 15.7" stroke-dashoffset="0"/>
<path d="M321.20,1416.61 L325.96,1416.60 L330.73,1416.60 L335.49,1416.60 L340.25,1416.60 L345.02,1416.60 L349.78,1416.59 L354.54,1416.59 L359.30,1416.58 L364.07,1416.58 L368.83,1416.57 L373.59,1416.57 L378.36,1416.56 L383.12,1416.55 L387.88,1416.54 L392.65,1416.53 L397.41,1416.52 L402.17,1416.50 L406.93,1416.48 L411.70,1416.46 L416.46,1416.44 L421.22,1416.41 L425.99,1416.38 L430.75,1416.35 L435.51,1416.30 L440.28,1416.26 L445.04,1416.20 L449.80,1416.14 L454.56,1416.06 L459.33,1415.98 L464.09,1415.88 L468.85,1415.76 L473.62,1415.63 L478.38,1415.48 L483.14,1415.31 L487.91,1415.11 L492.67,1414.87 L497.43,1414.61 L502.19,1414.30 L506.96,1413.94 L511.72,1413.53 L516.48,1413.06 L521.25,1412.52 L526.01,1411.90 L530.77,1411.18 L535.54,1410.36 L540.30,1409.41 L545.06,1408.33 L549.83,1407.09 L554.59,1405.67 L559.35,1404.05 L564.11,1402.20 L568.88,1400.09 L573.64,1397.69 L578.40,1394.98 L583.17,1391.90 L587.93,1388.44 L592.69,1384.54 L597.46,1380.18 L602.22,1375.31 L606.98,1369.91 L611.74,1363.94 L616.51,1357.39 L621.27,1350.24 L626.03,1342.48 L630.80,1334.14 L635.56,1325.23 L640.32,1315.81 L645.09,1305.91 L649.85,1295.63 L654.61,1285.04 L659.37,1274.26 L664.14,1263.38 L668.90,1252.51 L673.66,1241.78 L678.43,1231.28 L683.19,1221.11 L687.95,1211.36 L692.72,1202.09 L697.48,1193.36 L702.24,1185.20 L707.01,1177.64 L711.77,1170.68 L716.53,1164.31 L721.29,1158.53 L726.06,1153.30 L730.82,1148.60 L735.58,1144.39 L740.35,1140.63 L745.11,1137.29 L749.87,1134.34 L754.64,1131.73 L759.40,1129.43 L764.16,1127.40 L768.92,1125.63 L773.69,1124.07 L778.45,1122.71 L783.21,1121.52 L787.98,1120.49 L792.74,1119.58 L797.50,1118.80 L802.27,1118.11 L807.03,1117.51 L811.79,1117.00 L816.55,1116.54 L821.32,1116.15 L826.08,1115.81 L830.84,1115.52 L835.61,1115.26 L840.37,1115.04 L845.13,1114.85 L849.90,1114.68 L854.66,1114.54 L859.42,1114.41 L864.18,1114.30 L868.95,1114.21 L873.71,1114.13 L878.47,1114.06 L883.24,1114.00 L888.00,1113.94" fill="none" stroke="#000" stroke-width="5.8" stroke-linejoin="round" stroke-linecap="butt"/>
<ellipse cx="321.20" cy="1413.00" rx="10.7" ry="11.25" fill="#000"/>
<ellipse cx="402.40" cy="1413.00" rx="10.7" ry="11.25" fill="#000"/>
<ellipse cx="483.30" cy="1420.50" rx="10.7" ry="11.25" fill="#000"/>
<ellipse cx="564.50" cy="1407.40" rx="10.7" ry="11.25" fill="#000"/>
<ellipse cx="645.40" cy="1306.30" rx="10.7" ry="11.25" fill="#000"/>
<ellipse cx="726.40" cy="1151.00" rx="10.7" ry="11.25" fill="#000"/>
<ellipse cx="807.30" cy="1118.60" rx="10.7" ry="11.25" fill="#000"/>
<ellipse cx="888.00" cy="1118.60" rx="10.7" ry="11.25" fill="#000"/>
<path d="M321.00,1441.90 L324.81,1441.90 L328.61,1441.90 L332.42,1441.90 L336.22,1441.90 L340.03,1441.90 L343.83,1441.90 L347.64,1441.90 L351.44,1441.90 L355.25,1441.90 L359.05,1441.90 L362.86,1441.90 L366.66,1441.90 L370.47,1441.90 L374.28,1441.90 L378.08,1441.90 L381.89,1441.90 L385.69,1441.90 L389.50,1441.90 L393.30,1441.90 L397.11,1441.90 L400.91,1441.90 L404.72,1441.90 L408.52,1441.90 L412.33,1441.90 L416.13,1441.89 L419.94,1441.89 L423.74,1441.88 L427.55,1441.88 L431.36,1441.87 L435.16,1441.86 L438.97,1441.85 L442.77,1441.84 L446.58,1441.83 L450.38,1441.82 L454.19,1441.81 L457.99,1441.80 L461.80,1441.78 L465.60,1441.77 L469.41,1441.76 L473.21,1441.74 L477.02,1441.73 L480.83,1441.71 L484.63,1441.69 L488.44,1441.67 L492.24,1441.65 L496.05,1441.62 L499.85,1441.59 L503.66,1441.55 L507.46,1441.51 L511.27,1441.47 L515.07,1441.42 L518.88,1441.37 L522.68,1441.31 L526.49,1441.25 L530.30,1441.18 L534.10,1441.12 L537.91,1441.04 L541.71,1440.96 L545.52,1440.85 L549.32,1440.71 L553.13,1440.55 L556.93,1440.38 L560.74,1440.19 L564.54,1440.00 L568.35,1439.79 L572.15,1439.55 L575.96,1439.29 L579.77,1439.02 L583.57,1438.73 L587.38,1438.44 L591.18,1438.14 L594.99,1437.86 L598.79,1437.58 L602.60,1437.32 L606.40,1437.04 L610.21,1436.76 L614.01,1436.47 L617.82,1436.18 L621.62,1435.90 L625.43,1435.62 L629.23,1435.36 L633.04,1435.12 L636.85,1434.89 L640.65,1434.69 L644.46,1434.52 L648.26,1434.37 L652.07,1434.23 L655.87,1434.10 L659.68,1433.97 L663.48,1433.86 L667.29,1433.75 L671.09,1433.66 L674.90,1433.58 L678.70,1433.52 L682.51,1433.47 L686.32,1433.42 L690.12,1433.37 L693.93,1433.32 L697.73,1433.28 L701.54,1433.24 L705.34,1433.20 L709.15,1433.17 L712.95,1433.14 L716.76,1433.12 L720.56,1433.11 L724.37,1433.10 L728.17,1433.10 L731.98,1433.10 L735.79,1433.10 L739.59,1433.10 L743.40,1433.10 L747.20,1433.10 L751.01,1433.10 L754.81,1433.10 L758.62,1433.10 L762.42,1433.10 L766.23,1433.10 L770.03,1433.10 L773.84,1433.10 L777.64,1433.10 L781.45,1433.10 L785.26,1433.10 L789.06,1433.10 L792.87,1433.10 L796.67,1433.10 L800.48,1433.10 L804.28,1433.10 L808.09,1433.10 L811.89,1433.10 L815.70,1433.10 L819.50,1433.10 L823.31,1433.10 L827.11,1433.10 L830.92,1433.10 L834.72,1433.10 L838.53,1433.10 L842.34,1433.10 L846.14,1433.10 L849.95,1433.10 L853.75,1433.10 L857.56,1433.10 L861.36,1433.10 L865.17,1433.10 L868.97,1433.10 L872.78,1433.10 L876.58,1433.10 L880.39,1433.10 L884.19,1433.10 L888.00,1433.10" fill="none" stroke="#000" stroke-width="5.8" stroke-linejoin="round" stroke-linecap="butt"/>
<path d="M321.20,1432.13 L329.92,1450.50 L312.48,1450.50 Z" fill="#fff" stroke="#000" stroke-width="3.2" stroke-linejoin="miter" stroke-miterlimit="10"/>
<path d="M402.40,1432.88 L411.12,1451.25 L393.68,1451.25 Z" fill="#fff" stroke="#000" stroke-width="3.2" stroke-linejoin="miter" stroke-miterlimit="10"/>
<path d="M483.30,1435.08 L492.02,1453.45 L474.58,1453.45 Z" fill="#fff" stroke="#000" stroke-width="3.2" stroke-linejoin="miter" stroke-miterlimit="10"/>
<path d="M564.50,1432.88 L573.22,1451.25 L555.78,1451.25 Z" fill="#fff" stroke="#000" stroke-width="3.2" stroke-linejoin="miter" stroke-miterlimit="10"/>
<path d="M645.40,1426.08 L654.12,1444.45 L636.68,1444.45 Z" fill="#fff" stroke="#000" stroke-width="3.2" stroke-linejoin="miter" stroke-miterlimit="10"/>
<path d="M726.40,1426.88 L735.12,1445.25 L717.68,1445.25 Z" fill="#fff" stroke="#000" stroke-width="3.2" stroke-linejoin="miter" stroke-miterlimit="10"/>
<path d="M807.30,1428.78 L816.02,1447.15 L798.58,1447.15 Z" fill="#fff" stroke="#000" stroke-width="3.2" stroke-linejoin="miter" stroke-miterlimit="10"/>
<path d="M888.00,1418.88 L896.72,1437.25 L879.28,1437.25 Z" fill="#fff" stroke="#000" stroke-width="3.2" stroke-linejoin="miter" stroke-miterlimit="10"/>
</g>
<g id="panelD">
<line x1="1313.00" y1="940.50" x2="1313.00" y2="1479.90" stroke="#000" stroke-width="5.8" stroke-linecap="butt" />
<line x1="1298.25" y1="1477.00" x2="2044.00" y2="1477.00" stroke="#000" stroke-width="5.8" stroke-linecap="butt" />
<line x1="1298.25" y1="943.00" x2="1313.00" y2="943.00" stroke="#000" stroke-width="5.8" stroke-linecap="butt" />
<line x1="1298.25" y1="1120.50" x2="1313.00" y2="1120.50" stroke="#000" stroke-width="5.8" stroke-linecap="butt" />
<line x1="1298.25" y1="1298.75" x2="1313.00" y2="1298.75" stroke="#000" stroke-width="5.8" stroke-linecap="butt" />
<line x1="1298.25" y1="1477.00" x2="1313.00" y2="1477.00" stroke="#000" stroke-width="5.8" stroke-linecap="butt" />
<line x1="1313.00" y1="1477.00" x2="1313.00" y2="1493.80" stroke="#000" stroke-width="5.8" stroke-linecap="butt" />
<line x1="1616.00" y1="1477.00" x2="1616.00" y2="1493.80" stroke="#000" stroke-width="5.8" stroke-linecap="butt" />
<line x1="1919.30" y1="1477.00" x2="1919.30" y2="1493.80" stroke="#000" stroke-width="5.8" stroke-linecap="butt" />
<g transform="translate(1154.06,876.50) scale(0.8692,1.0000)">
<text x="0.00" y="0.00" font-family='"Liberation Sans", sans-serif' font-weight="bold" font-size="58.70">D</text>
</g>
<g transform="translate(1242.19,957.60) scale(0.8979,1.0000)">
<text x="0.00" y="0.00" font-family='"Liberation Sans", sans-serif' font-weight="bold" font-size="41.20">1.5</text>
</g>
<g transform="translate(1242.17,1135.10) scale(0.9067,1.0000)">
<text x="0.00" y="0.00" font-family='"Liberation Sans", sans-serif' font-weight="bold" font-size="41.20">1.0</text>
</g>
<g transform="translate(1243.05,1313.35) scale(0.8826,1.0000)">
<text x="0.00" y="0.00" font-family='"Liberation Sans", sans-serif' font-weight="bold" font-size="41.20">0.5</text>
</g>
<g transform="translate(1243.03,1491.60) scale(0.8911,1.0000)">
<text x="0.00" y="0.00" font-family='"Liberation Sans", sans-serif' font-weight="bold" font-size="41.20">0.0</text>
</g>
<g transform="translate(1281.34,1537.20) scale(0.8967,1.0000)">
<text x="0.00" y="0.00" font-family='"Liberation Sans", sans-serif' font-weight="bold" font-size="40.80">-4.0</text>
</g>
<g transform="translate(1584.55,1537.20) scale(0.8899,1.0000)">
<text x="0.00" y="0.00" font-family='"Liberation Sans", sans-serif' font-weight="bold" font-size="40.80">-3.5</text>
</g>
<g transform="translate(1887.14,1537.20) scale(0.8967,1.0000)">
<text x="0.00" y="0.00" font-family='"Liberation Sans", sans-serif' font-weight="bold" font-size="40.80">-3.0</text>
</g>
<g transform="translate(1539.31,1605.50) scale(0.8772,1.0000)">
<text x="0.00" y="0.00" font-family='"Liberation Sans", sans-serif' font-weight="bold" font-size="45.50">Log [IVAH] (M)</text>
</g>
<g transform="translate(1219.20,1391.69) rotate(-90) scale(1.0620,1.0000)">
<text x="0.00" y="0.00" font-family='"Liberation Serif", serif' font-weight="normal" font-size="42.40">Δ</text>
<text x="27.24" y="0.00" font-family='"Liberation Sans", sans-serif' font-weight="bold" font-size="42.40">F/F (Ca</text>
<text x="170.77" y="-21.20" font-family='"Liberation Sans", sans-serif' font-weight="bold" font-size="29.26">2+</text>
<text x="215.88" y="0.00" font-family='"Liberation Sans", sans-serif' font-weight="bold" font-size="42.40">Influx)</text>
</g>
<line x1="1333.00" y1="874.75" x2="1385.00" y2="874.75" stroke="#000" stroke-width="6.2" stroke-linecap="butt" />
<ellipse cx="1358.75" cy="874.75" rx="10.7" ry="11.25" fill="#000"/>
<g transform="translate(1412.66,891.75) scale(0.8429,1.0000)">
<text x="0.00" y="0.00" font-family='"Liberation Sans", sans-serif' font-weight="normal" font-size="46.00">IVAH</text>
</g>
<line x1="1333.00" y1="946.00" x2="1385.00" y2="946.00" stroke="#000" stroke-width="6.2" stroke-linecap="butt" />
<path d="M1358.75,937.25 L1368.00,956.75 L1349.50,956.75 Z" fill="none" stroke="#000" stroke-width="6.0" stroke-linejoin="round" stroke-miterlimit="10"/>
<g transform="translate(1412.67,963.00) scale(0.8415,1.0000)">
<text x="0.00" y="0.00" font-family='"Liberation Sans", sans-serif' font-weight="normal" font-size="46.00">IVAH+EDTA</text>
</g>
<path d="M1334.00,1018.50 L1385.00,1018.50" fill="none" stroke="#000" stroke-width="6.2" stroke-linejoin="round" stroke-linecap="round" stroke-dasharray="8.4 15.7" stroke-dashoffset="0"/>
<rect x="1349.10" y="1007.80" width="19.30" height="21.40" fill="none" stroke="#000" stroke-width="5.6"/>
<g transform="translate(1412.63,1034.75) scale(0.8503,1.0000)">
<text x="0.00" y="0.00" font-family='"Liberation Sans", sans-serif' font-weight="normal" font-size="46.00">IVAH+NPS2143</text>
</g>
<rect x="1361.95" y="1440.90" width="19.30" height="21.40" fill="none" stroke="#000" stroke-width="5.6"/>
<rect x="1544.35" y="1438.80" width="19.30" height="21.40" fill="none" stroke="#000" stroke-width="5.6"/>
<rect x="1726.85" y="1431.90" width="19.30" height="21.40" fill="none" stroke="#000" stroke-width="5.6"/>
<rect x="1909.45" y="1399.80" width="19.30" height="21.40" fill="none" stroke="#000" stroke-width="5.6"/>
<path d="M1371.60,1454.98 L1375.27,1454.89 L1378.95,1454.79 L1382.62,1454.69 L1386.30,1454.60 L1389.97,1454.50 L1393.65,1454.40 L1397.32,1454.31 L1401.00,1454.21 L1404.67,1454.11 L1408.34,1454.02 L1412.02,1453.92 L1415.69,1453.82 L1419.37,1453.72 L1423.04,1453.62 L1426.72,1453.52 L1430.39,1453.42 L1434.07,1453.31 L1437.74,1453.21 L1441.42,1453.11 L1445.09,1453.00 L1448.76,1452.90 L1452.44,1452.79 L1456.11,1452.68 L1459.79,1452.57 L1463.46,1452.46 L1467.14,1452.35 L1470.81,1452.24 L1474.49,1452.13 L1478.16,1452.01 L1481.83,1451.90 L1485.51,1451.78 L1489.18,1451.66 L1492.86,1451.54 L1496.53,1451.41 L1500.21,1451.29 L1503.88,1451.16 L1507.56,1451.04 L1511.23,1450.91 L1514.91,1450.77 L1518.58,1450.64 L1522.25,1450.51 L1525.93,1450.37 L1529.60,1450.23 L1533.28,1450.09 L1536.95,1449.94 L1540.63,1449.80 L1544.30,1449.65 L1547.98,1449.50 L1551.65,1449.34 L1555.32,1449.19 L1559.00,1449.03 L1562.67,1448.87 L1566.35,1448.70 L1570.02,1448.54 L1573.70,1448.37 L1577.37,1448.20 L1581.05,1448.02 L1584.72,1447.85 L1588.40,1447.67 L1592.07,1447.48 L1595.74,1447.30 L1599.42,1447.11 L1603.09,1446.92 L1606.77,1446.72 L1610.44,1446.52 L1614.12,1446.32 L1617.79,1446.11 L1621.47,1445.90 L1625.14,1445.69 L1628.81,1445.48 L1632.49,1445.26 L1636.16,1445.04 L1639.84,1444.81 L1643.51,1444.58 L1647.19,1444.34 L1650.86,1444.11 L1654.54,1443.87 L1658.21,1443.62 L1661.89,1443.37 L1665.56,1443.12 L1669.23,1442.86 L1672.91,1442.60 L1676.58,1442.33 L1680.26,1442.06 L1683.93,1441.79 L1687.61,1441.51 L1691.28,1441.23 L1694.96,1440.94 L1698.63,1440.65 L1702.30,1440.35 L1705.98,1440.05 L1709.65,1439.75 L1713.33,1439.44 L1717.00,1439.12 L1720.68,1438.80 L1724.35,1438.48 L1728.03,1438.15 L1731.70,1437.82 L1735.38,1437.48 L1739.05,1437.13 L1742.72,1436.79 L1746.40,1436.43 L1750.07,1436.07 L1753.75,1435.71 L1757.42,1435.34 L1761.10,1434.96 L1764.77,1434.58 L1768.45,1434.19 L1772.12,1433.80 L1775.79,1433.41 L1779.47,1433.00 L1783.14,1432.60 L1786.82,1432.18 L1790.49,1431.76 L1794.17,1431.34 L1797.84,1430.90 L1801.52,1430.47 L1805.19,1430.02 L1808.87,1429.57 L1812.54,1429.12 L1816.21,1428.66 L1819.89,1428.19 L1823.56,1427.72 L1827.24,1427.24 L1830.91,1426.75 L1834.59,1426.26 L1838.26,1425.76 L1841.94,1425.25 L1845.61,1424.74 L1849.28,1424.22 L1852.96,1423.70 L1856.63,1423.16 L1860.31,1422.63 L1863.98,1422.08 L1867.66,1421.53 L1871.33,1420.97 L1875.01,1420.40 L1878.68,1419.83 L1882.36,1419.25 L1886.03,1418.66 L1889.70,1418.07 L1893.38,1417.47 L1897.05,1416.86 L1900.73,1416.24 L1904.40,1415.62 L1908.08,1414.99 L1911.75,1414.35 L1915.43,1413.70 L1919.10,1413.05" fill="none" stroke="#000" stroke-width="6.2" stroke-linejoin="round" stroke-linecap="round" stroke-dasharray="8.4 15.8" stroke-dashoffset="-4.4"/>
<path d="M1371.60,1395.71 L1377.13,1394.72 L1382.66,1393.69 L1388.19,1392.60 L1393.72,1391.47 L1399.25,1390.29 L1404.78,1389.07 L1410.31,1387.79 L1415.84,1386.47 L1421.37,1385.11 L1426.90,1383.69 L1432.43,1382.23 L1437.96,1380.72 L1443.49,1379.16 L1449.02,1377.55 L1454.55,1375.90 L1460.08,1374.20 L1465.62,1372.45 L1471.15,1370.65 L1476.68,1368.80 L1482.21,1366.91 L1487.74,1364.97 L1493.27,1362.98 L1498.80,1360.95 L1504.33,1358.86 L1509.86,1356.73 L1515.39,1354.55 L1520.92,1352.32 L1526.45,1350.05 L1531.98,1347.72 L1537.51,1345.35 L1543.04,1342.93 L1548.57,1340.47 L1554.10,1337.95 L1559.63,1335.39 L1565.16,1332.77 L1570.69,1330.11 L1576.22,1327.41 L1581.75,1324.65 L1587.28,1321.84 L1592.81,1318.99 L1598.34,1316.09 L1603.87,1313.14 L1609.40,1310.14 L1614.93,1307.10 L1620.46,1304.01 L1625.99,1300.86 L1631.52,1297.67 L1637.05,1294.43 L1642.58,1291.15 L1648.12,1287.81 L1653.65,1284.43 L1659.18,1280.99 L1664.71,1277.51 L1670.24,1273.98 L1675.77,1270.40 L1681.30,1266.78 L1686.83,1263.10 L1692.36,1259.38 L1697.89,1255.61 L1703.42,1251.79 L1708.95,1247.92 L1714.48,1244.00 L1720.01,1240.03 L1725.54,1236.01 L1731.07,1231.95 L1736.60,1227.84 L1742.13,1223.67 L1747.66,1219.46 L1753.19,1215.20 L1758.72,1210.90 L1764.25,1206.54 L1769.78,1202.13 L1775.31,1197.68 L1780.84,1193.17 L1786.37,1188.62 L1791.90,1184.02 L1797.43,1179.37 L1802.96,1174.67 L1808.49,1169.92 L1814.02,1165.12 L1819.55,1160.28 L1825.08,1155.38 L1830.62,1150.43 L1836.15,1145.44 L1841.68,1140.40 L1847.21,1135.31 L1852.74,1130.16 L1858.27,1124.97 L1863.80,1119.73 L1869.33,1114.44 L1874.86,1109.10 L1880.39,1103.72 L1885.92,1098.28 L1891.45,1092.79 L1896.98,1087.26 L1902.51,1081.67 L1908.04,1076.04 L1913.57,1070.35 L1919.10,1064.62" fill="none" stroke="#000" stroke-width="5.8" stroke-linejoin="round" stroke-linecap="butt"/>
<ellipse cx="1371.60" cy="1395.40" rx="10.7" ry="11.25" fill="#000"/>
<ellipse cx="1554.00" cy="1337.00" rx="10.7" ry="11.25" fill="#000"/>
<ellipse cx="1736.50" cy="1232.00" rx="10.7" ry="11.25" fill="#000"/>
<ellipse cx="1919.10" cy="1065.25" rx="10.7" ry="11.25" fill="#000"/>
<path d="M1371.60,1452.65 L1380.85,1472.15 L1362.35,1472.15 Z" fill="none" stroke="#000" stroke-width="6.0" stroke-linejoin="round" stroke-miterlimit="10"/>
<path d="M1554.00,1450.55 L1563.25,1470.05 L1544.75,1470.05 Z" fill="none" stroke="#000" stroke-width="6.0" stroke-linejoin="round" stroke-miterlimit="10"/>
<path d="M1736.50,1444.25 L1745.75,1463.75 L1727.25,1463.75 Z" fill="none" stroke="#000" stroke-width="6.0" stroke-linejoin="round" stroke-miterlimit="10"/>
<path d="M1919.10,1436.15 L1928.35,1455.65 L1909.85,1455.65 Z" fill="none" stroke="#000" stroke-width="6.0" stroke-linejoin="round" stroke-miterlimit="10"/>
<path d="M1372.00,1461.91 L1375.67,1461.93 L1379.34,1461.94 L1383.01,1461.95 L1386.68,1461.96 L1390.36,1461.96 L1394.03,1461.96 L1397.70,1461.96 L1401.37,1461.96 L1405.04,1461.95 L1408.71,1461.94 L1412.38,1461.93 L1416.05,1461.91 L1419.72,1461.90 L1423.40,1461.87 L1427.07,1461.85 L1430.74,1461.83 L1434.41,1461.80 L1438.08,1461.77 L1441.75,1461.73 L1445.42,1461.70 L1449.09,1461.66 L1452.77,1461.62 L1456.44,1461.57 L1460.11,1461.53 L1463.78,1461.48 L1467.45,1461.43 L1471.12,1461.37 L1474.79,1461.32 L1478.46,1461.26 L1482.13,1461.20 L1485.81,1461.14 L1489.48,1461.07 L1493.15,1461.01 L1496.82,1460.94 L1500.49,1460.87 L1504.16,1460.80 L1507.83,1460.72 L1511.50,1460.64 L1515.17,1460.56 L1518.85,1460.48 L1522.52,1460.40 L1526.19,1460.31 L1529.86,1460.23 L1533.53,1460.14 L1537.20,1460.05 L1540.87,1459.95 L1544.54,1459.86 L1548.21,1459.76 L1551.89,1459.67 L1555.56,1459.57 L1559.23,1459.46 L1562.90,1459.36 L1566.57,1459.25 L1570.24,1459.15 L1573.91,1459.04 L1577.58,1458.93 L1581.26,1458.82 L1584.93,1458.70 L1588.60,1458.59 L1592.27,1458.47 L1595.94,1458.35 L1599.61,1458.24 L1603.28,1458.11 L1606.95,1457.99 L1610.62,1457.87 L1614.30,1457.74 L1617.97,1457.62 L1621.64,1457.49 L1625.31,1457.36 L1628.98,1457.23 L1632.65,1457.10 L1636.32,1456.96 L1639.99,1456.83 L1643.66,1456.70 L1647.34,1456.56 L1651.01,1456.42 L1654.68,1456.28 L1658.35,1456.14 L1662.02,1456.00 L1665.69,1455.86 L1669.36,1455.72 L1673.03,1455.57 L1676.70,1455.43 L1680.38,1455.28 L1684.05,1455.14 L1687.72,1454.99 L1691.39,1454.84 L1695.06,1454.69 L1698.73,1454.54 L1702.40,1454.39 L1706.07,1454.24 L1709.74,1454.09 L1713.42,1453.93 L1717.09,1453.78 L1720.76,1453.62 L1724.43,1453.47 L1728.10,1453.31 L1731.77,1453.16 L1735.44,1453.00 L1739.11,1452.84 L1742.79,1452.68 L1746.46,1452.53 L1750.13,1452.37 L1753.80,1452.21 L1757.47,1452.05 L1761.14,1451.89 L1764.81,1451.73 L1768.48,1451.57 L1772.15,1451.40 L1775.83,1451.24 L1779.50,1451.08 L1783.17,1450.92 L1786.84,1450.76 L1790.51,1450.59 L1794.18,1450.43 L1797.85,1450.27 L1801.52,1450.10 L1805.19,1449.94 L1808.87,1449.78 L1812.54,1449.62 L1816.21,1449.45 L1819.88,1449.29 L1823.55,1449.13 L1827.22,1448.96 L1830.89,1448.80 L1834.56,1448.64 L1838.23,1448.47 L1841.91,1448.31 L1845.58,1448.15 L1849.25,1447.98 L1852.92,1447.82 L1856.59,1447.66 L1860.26,1447.50 L1863.93,1447.34 L1867.60,1447.18 L1871.28,1447.01 L1874.95,1446.85 L1878.62,1446.69 L1882.29,1446.53 L1885.96,1446.38 L1889.63,1446.22 L1893.30,1446.06 L1896.97,1445.90 L1900.64,1445.74 L1904.32,1445.59 L1907.99,1445.43 L1911.66,1445.27 L1915.33,1445.12 L1919.00,1444.96" fill="none" stroke="#000" stroke-width="5.8" stroke-linejoin="round" stroke-linecap="butt"/>
</g>
</svg>
</body></html>
